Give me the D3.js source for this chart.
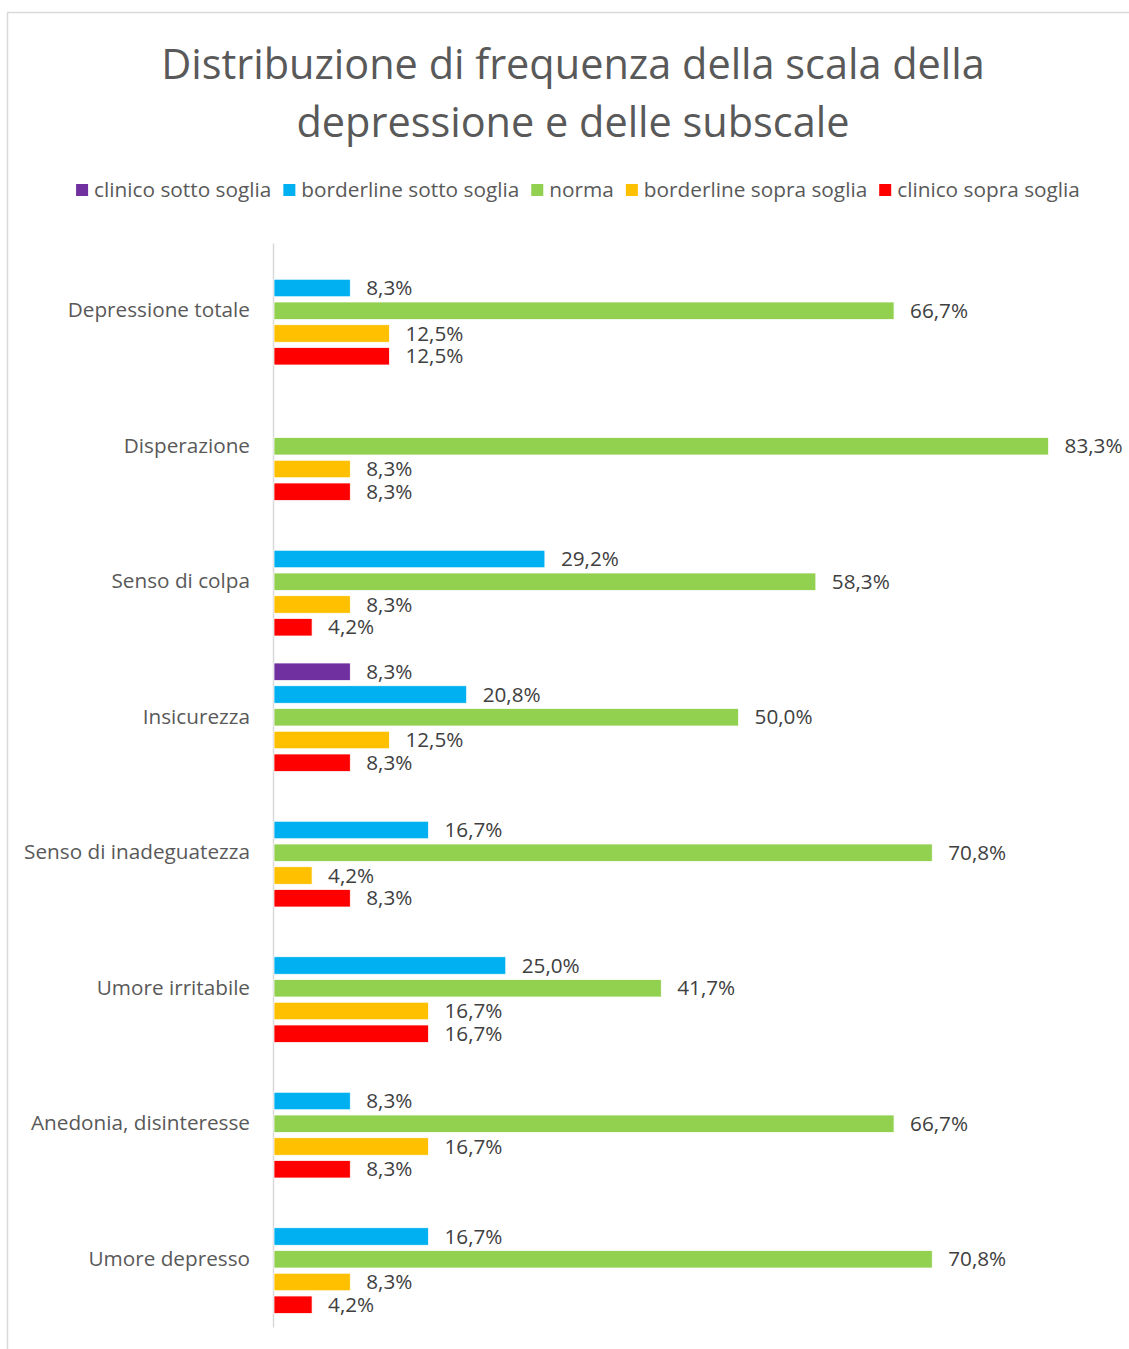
<!DOCTYPE html>
<html>
<head>
<meta charset="utf-8">
<script src="https://cdn.jsdelivr.net/npm/d3@7"></script>
<style>
  body { margin: 0; background: #fff; }
  text { font-family: "Open Sans", sans-serif; }
</style>
</head>
<body>
<div id="chart"></div>
<script>
// Chart data
const categories = ["Depressione totale", "Disperazione", "Senso di colpa", "Insicurezza",
    "Senso di inadeguatezza", "Umore irritabile", "Anedonia, disinteresse", "Umore depresso"];
const series = ["clinico sotto soglia", "borderline sotto soglia", "norma",
    "borderline sopra soglia", "clinico sopra soglia"];
const colors = ["#7030A0", "#00B0F0", "#92D050", "#FFC000", "#FF0000"];
// one row per category, values in the series order (percent; 0 = no bar)
const values = [
    [0, 8.3, 66.7, 12.5, 12.5],
    [0, 0, 83.3, 8.3, 8.3],
    [0, 29.2, 58.3, 8.3, 4.2],
    [8.3, 20.8, 50.0, 12.5, 8.3],
    [0, 16.7, 70.8, 4.2, 8.3],
    [0, 25.0, 41.7, 16.7, 16.7],
    [0, 8.3, 66.7, 16.7, 8.3],
    [0, 16.7, 70.8, 8.3, 4.2]
];
const titleLines = ["Distribuzione di frequenza della scala della", "depressione e delle subscale"];

const width = 1129, height = 1349;
const plot = { left: 273, right: 1111, top: 243, bottom: 1327 };

const svg = d3.select("#chart").append("svg")
    .attr("width", width)
    .attr("height", height);

// chart area border
svg.append("rect")
    .attr("x", 7.5).attr("y", 12.5)
    .attr("width", width + 20).attr("height", height + 20)
    .attr("fill", "#fff")
    .attr("stroke", "#d9d9d9")
    .attr("stroke-width", 1.5);

// helper: set font size so that a sample string gets the target width
function fitSize(sample, target, base) {
    const t = svg.append("text").attr("font-size", base).text(sample);
    const w = t.node().getComputedTextLength();
    t.remove();
    return base * target / w;
}

const titleSize = fitSize(titleLines[0], 824, 40);
const legendSize = fitSize("borderline sotto soglia", 218, 20);
const catSize = fitSize("Senso di inadeguatezza", 226, 20);
const valSize = fitSize("66,7%", 58, 20);

// Title
svg.append("g").selectAll("text")
    .data(titleLines)
    .join("text")
    .attr("x", 573)
    .attr("y", (d, i) => 79 + i * 58)
    .attr("text-anchor", "middle")
    .attr("font-size", titleSize)
    .attr("fill", "#595959")
    .text(d => d);

// Legend
const legend = svg.append("g");
let lx = 0;
series.forEach((s, i) => {
    legend.append("rect")
        .attr("x", lx).attr("y", 184)
        .attr("width", 12).attr("height", 12)
        .attr("fill", colors[i]);
    const t = legend.append("text")
        .attr("x", lx + 18).attr("y", 190)
        .attr("dy", "0.35em")
        .attr("font-size", legendSize)
        .attr("fill", "#595959")
        .text(s);
    lx += 18 + t.node().getComputedTextLength() + 12;
});
const legendW = lx - 12;
legend.attr("transform", `translate(${(75 + 1081 - legendW) / 2},0)`);

// Scales
const x = d3.scaleLinear().domain([0, 90]).range([plot.left, plot.right]);
const y = d3.scaleBand().domain(categories).range([plot.top, plot.bottom]);
const ySub = d3.scaleBand().domain(series)
    .range([y.bandwidth() / 2 - 54.25, y.bandwidth() / 2 + 54.25])
    .paddingInner(0.23);

// Category axis
const yAxis = svg.append("g")
    .attr("transform", `translate(${plot.left},0)`)
    .call(d3.axisLeft(y).tickSize(0).tickPadding(23));
yAxis.select(".domain").attr("stroke", "#d9d9d9").attr("stroke-width", 1.5);
yAxis.selectAll("text")
    .attr("font-family", "'Open Sans', sans-serif")
    .attr("font-size", catSize)
    .attr("fill", "#595959");

// Bars and labels
const rows = categories.map((c, ci) => ({
    cat: c,
    items: series.map((s, si) => ({ series: s, color: colors[si], value: values[ci][si] }))
        .filter(d => d.value > 0)
}));

const groups = svg.append("g").selectAll("g")
    .data(rows)
    .join("g")
    .attr("transform", d => `translate(0,${y(d.cat)})`);

groups.selectAll("rect")
    .data(d => d.items)
    .join("rect")
    .attr("x", x(0) + 1)
    .attr("y", d => ySub(d.series))
    .attr("width", d => x(d.value) - x(0) - 1)
    .attr("height", ySub.bandwidth())
    .attr("fill", d => d.color)
    .attr("stroke", "#fff")
    .attr("stroke-width", 0.75);

groups.selectAll("text")
    .data(d => d.items)
    .join("text")
    .attr("x", d => x(d.value) + 16)
    .attr("y", d => ySub(d.series) + ySub.bandwidth() / 2)
    .attr("dy", "0.35em")
    .attr("font-size", valSize)
    .attr("fill", "#404040")
    .text(d => d.value.toFixed(1).replace(".", ",") + "%");
</script>
</body>
</html>
